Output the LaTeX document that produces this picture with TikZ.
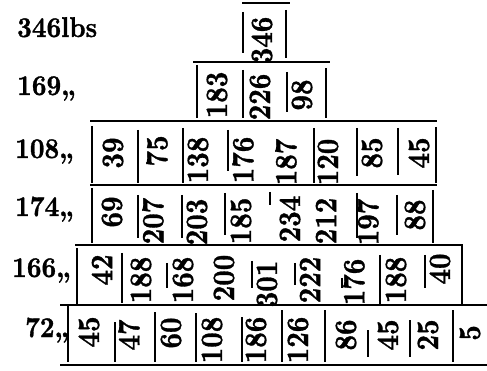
\documentclass[tikz,border=0pt]{standalone}
\usepackage{fontspec}
\usepackage{graphicx}
\newfontfamily\heavy{lmroman10-bold}[Extension=.otf, FakeBold=1.2]
\begin{document}
\begin{tikzpicture}[x=1pt,y=-1pt,
  num/.style={rotate=90, inner sep=0pt, font=\fontsize{27}{27}\heavy},
  lab/.style={anchor=base west, inner sep=0pt, font=\fontsize{25.5}{26}\heavy},
  hline/.style={line width=2pt},
  bar/.style={line width=2.8pt}]
\fill[white] (0,0) rectangle (487,371);
\useasboundingbox (0,0) rectangle (487,371);
% labels
\node[lab] (l1) at (17,37) {\scalebox{1}[1.12]{346lbs}};
\node[lab] (l2) at (17,95) {\scalebox{1}[1.12]{169„}};
\node[lab] (l3) at (15,158) {\scalebox{1}[1.12]{108„}};
\node[lab] (l4) at (15,216) {\scalebox{1}[1.12]{174„}};
\node[lab] (l5) at (12,277) {\scalebox{1}[1.12]{166„}};
\node[lab] (l6) at (25,337) {\scalebox{1}[1.12]{72„}};
% horizontal rules
\draw[hline] (242,3) -- (290,3);
\draw[hline] (193,62) -- (330,62);
\draw[hline] (90,121) -- (437,121);
\draw[hline] (90,185) -- (437,185);
\draw[hline] (75,245) -- (463,245);
\draw[hline] (60,305) -- (487,305);
\draw[hline] (60,365) -- (487,365);
% row 1
\draw[bar] (243,12) -- (243,53);
\draw[bar] (286,10) -- (286,58);
\node[num] (r1n1) at (262,40) {\scalebox{1}[1.15]{346}};
% row 2
\foreach \x/\a/\b in {197/65/118, 243/70/118, 287/72/112, 326/68/118}
  \draw[bar] (\x,\a) -- (\x,\b);
\foreach \x/\y/\t [count=\i] in {217/95/183, 260/97/226, 302/95/98}
  \node[num] (r2n\i) at (\x,\y) {\scalebox{1}[1.15]{\t}};
% row 3
\foreach \x/\a/\b in {92/126/183, 138/130/183, 183/128/183, 228/130/171, 314/128/183, 357/128/176, 398/128/175, 436/127/183}
  \draw[bar] (\x,\a) -- (\x,\b);
\foreach \x/\y/\t [count=\i] in {113/153/39, 157/151/75, 198/160/138, 243/160/176, 286/162/187, 328/162/120, 372/153/85, 419/153/45}
  \node[num] (r3n\i) at (\x,\y) {\scalebox{1}[1.15]{\t}};
% row 4
\foreach \x/\a/\b in {92/188/243, 138/195/238, 182/195/238, 225/193/235, 270/192/205, 357/193/238, 397/195/235, 433/190/243}
  \draw[bar] (\x,\a) -- (\x,\b);
\foreach \x/\y/\t [count=\i] in {112/212/69, 153/221/207, 197/222/203, 241/221/185, 290/219/234, 326/221/212, 368/222/197, 415/215/88}
  \node[num] (r4n\i) at (\x,\y) {\scalebox{1}[1.15]{\t}};
% row 5
\foreach \x/\a/\b in {77/248/305, 122/253/303, 167/263/288, 252/261/288, 295/263/285, 342/278/288, 380/255/305, 425/255/288, 462/246/305}
  \draw[bar] (\x,\a) -- (\x,\b);
\foreach \x/\y/\t [count=\i] in {102/270/42, 141/280/188, 183/280/168, 224/278/200, 267/284/301, 310/280/222, 354/282/176, 396/280/188, 440/269/40}
  \node[num] (r5n\i) at (\x,\y) {\scalebox{1}[1.15]{\t}};
% row 6
\foreach \x/\a/\b in {68/305/362, 115/322/362, 155/312/362, 196/313/362, 242/317/362, 282/310/362, 325/310/362, 368/330/357, 410/320/357, 453/310/362}
  \draw[bar] (\x,\a) -- (\x,\b);
\foreach \x/\y/\t [count=\i] in {89/332/45, 129/335/47, 171/333/60, 212/340/108, 256/340/186, 298/340/126, 346/335/86, 388/335/45, 428/335/25, 470/333/5}
  \node[num] (r6n\i) at (\x,\y) {\scalebox{1}[1.15]{\t}};
\end{tikzpicture}
\end{document}
